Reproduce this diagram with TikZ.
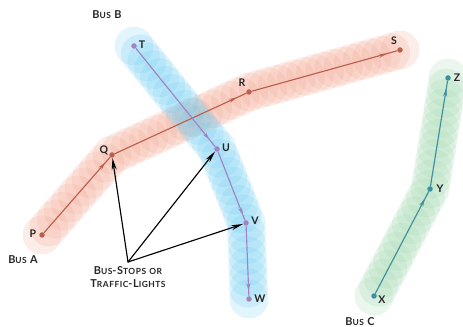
\documentclass[tikz,border=0pt]{standalone}
\usepackage{fontspec}
\usepackage{xcolor}
\usetikzlibrary{arrows.meta,backgrounds,calc,decorations.markings}
\newfontfamily\busfont[LetterSpace=6]{Lato}
\newfontfamily\stopfont{Lato}
\definecolor{busred}{HTML}{F2A48E}
\definecolor{busblue}{HTML}{6CCBF2}
\definecolor{busgreen}{HTML}{9AD4A9}
\definecolor{linered}{HTML}{B9604E}
\definecolor{lineblue}{HTML}{A483C4}
\definecolor{linegreen}{HTML}{3F8F9F}
\newcommand{\capsmall}[2]{{\fontsize{6.2}{7.4}\selectfont #1}{\fontsize{4.8}{7.4}\selectfont #2}}
\newcommand{\busband}[4]{%
  \foreach \i in {1,...,#3}
    \fill[#4,opacity=0.2] ($(#1)!\i/#3!(#2)$) circle[radius=0.39cm];
}
\tikzset{
    every picture/.style={line cap=round,line join=round},
    stopdot/.style={circle,inner sep=0pt,minimum size=1.1mm,fill=#1},
    stoplabel/.style={font=\stopfont\bfseries\fontsize{6}{7}\selectfont,inner sep=0pt,text=black!85},
    buslabel/.style={font=\busfont\bfseries\fontsize{6.2}{7.4}\selectfont,inner sep=0pt,text=black!85,align=center},
    busline/.style={draw=#1,line width=0.65pt,postaction={decorate},
      decoration={markings,mark=at position 0.93 with {\arrow[#1]{Stealth[length=1.6mm,width=0.8mm]}}}},
    pointer/.style={-{Stealth[length=2.4mm,width=1mm]},draw=black,line width=0.65pt}
}
\begin{document}
\begin{tikzpicture}[x=0.02cm,y=-0.02cm]
  \useasboundingbox (0,0) rectangle (463,327);

  % stops of the three lines
  \node[stopdot=linered] (P) at (42,235) {};
  \node[stopdot=linered] (Q) at (112,155) {};
  \node[stopdot=linered] (R) at (249,92) {};
  \node[stopdot=linered] (S) at (400,50) {};
  \node[stopdot=lineblue] (T) at (134,46) {};
  \node[stopdot=lineblue] (U) at (217,149) {};
  \node[stopdot=lineblue] (V) at (246,223) {};
  \node[stopdot=lineblue] (W) at (249,299) {};
  \node[stopdot=linegreen] (X) at (374,296) {};
  \node[stopdot=linegreen] (Y) at (430,189) {};
  \node[stopdot=linegreen] (Z) at (448,78) {};

  \node[stoplabel] (lblP) at (33,234) {P};
  \node[stoplabel] (lblQ) at (104,150) {Q};
  \node[stoplabel] (lblR) at (242,83) {R};
  \node[stoplabel] (lblS) at (394,41) {S};
  \node[stoplabel] (lblT) at (142,45) {T};
  \node[stoplabel] (lblU) at (226,148) {U};
  \node[stoplabel] (lblV) at (255,221) {V};
  \node[stoplabel] (lblW) at (260,299) {W};
  \node[stoplabel] (lblX) at (382,300) {X};
  \node[stoplabel] (lblY) at (440,189) {Y};
  \node[stoplabel] (lblZ) at (457,78) {Z};

  \node[buslabel] (busA) at (23,260) {\capsmall{B}{US} \capsmall{A}{}};
  \node[buslabel] (busB) at (107,15) {\capsmall{B}{US} \capsmall{B}{}};
  \node[buslabel] (busC) at (360,322) {\capsmall{B}{US} \capsmall{C}{}};
  \node[buslabel,anchor=north,outer ysep=2.8pt] (lights) at (128,262)
    {\capsmall{B}{US}-\capsmall{S}{TOPS} \capsmall{}{OR}\\\capsmall{T}{RAFFIC}-\capsmall{L}{IGHTS}};

  \begin{pgfonlayer}{background}
    \fill[busred,opacity=0.2] (P) circle[radius=0.39cm];
    \busband{P}{Q}{10}{busred}
    \busband{Q}{R}{15}{busred}
    \busband{R}{S}{16}{busred}
    \fill[busblue,opacity=0.2] (T) circle[radius=0.39cm];
    \busband{T}{U}{13}{busblue}
    \busband{U}{V}{8}{busblue}
    \busband{V}{W}{7}{busblue}
    \fill[busgreen,opacity=0.2] (X) circle[radius=0.39cm];
    \busband{X}{Y}{12}{busgreen}
    \busband{Y}{Z}{11}{busgreen}
  \end{pgfonlayer}

  \draw[busline=linered] (P) -- (Q);
  \draw[busline=linered] (Q) -- (R);
  \draw[busline=linered] (R) -- (S);
  \draw[busline=lineblue] (T) -- (U);
  \draw[busline=lineblue] (U) -- (V);
  \draw[busline=lineblue] (V) -- (W);
  \draw[busline=linegreen] (X) -- (Y);
  \draw[busline=linegreen] (Y) -- (Z);

  \draw[pointer] (lights.north) -- (Q);
  \draw[pointer] (lights.north) -- (U);
  \draw[pointer] (lights.north) -- (V);
\end{tikzpicture}
\end{document}
